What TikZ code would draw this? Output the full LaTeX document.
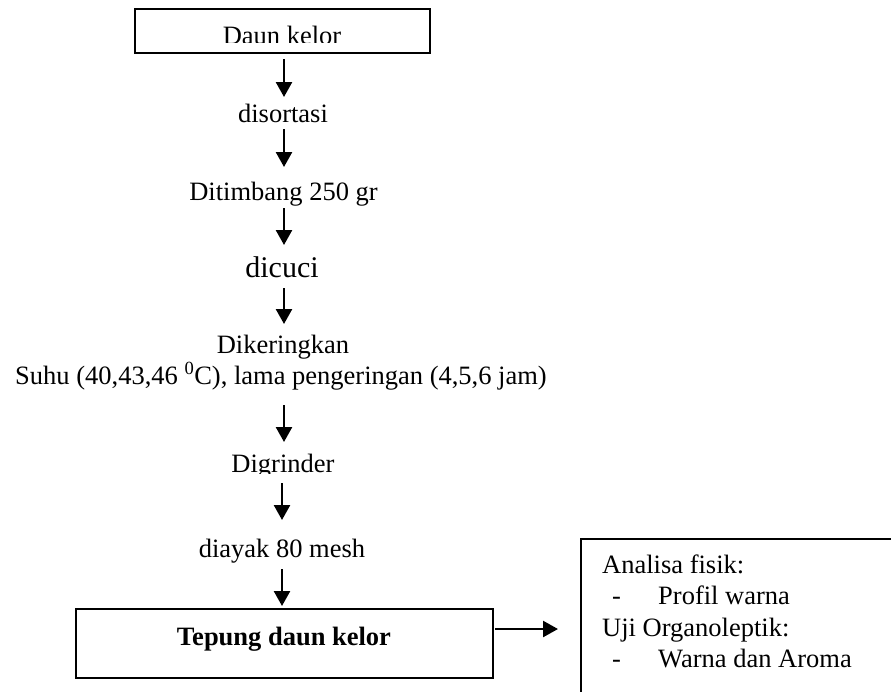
\documentclass[tikz,border=0pt]{standalone}
\usepackage{fontspec}
\setmainfont{Liberation Serif}
\usetikzlibrary{arrows.meta}
\begin{document}
\begin{tikzpicture}[x=1pt,y=-1pt,
  txt/.style={inner sep=0pt,anchor=base,font=\fontsize{26.5}{31.5}\selectfont},
  ltxt/.style={txt,anchor=base west},
  boxline/.style={draw,line width=2pt,inner sep=0pt},
  arr/.style={line width=2.5pt,-{Triangle[length=15pt,width=16pt]}}]
\useasboundingbox (0,0) rectangle (891,691);
% top box
\node[boxline,minimum width=295pt,minimum height=44pt] (daun) at (282.5,31) {};
\begin{scope}
\clip (135,0) rectangle (430,42);
\node[txt] (dauntxt) at (282,44) {Daun kelor};
\end{scope}
\node[txt] (sort) at (283,122) {disortasi};
\node[txt] (timb) at (283.5,200) {Ditimbang 250 gr};
\node[txt,font=\fontsize{30}{36}\selectfont] (cuci) at (282,277) {dicuci};
\node[txt] (kering) at (283,353) {Dikeringkan};
\node[txt] (suhu) at (281,384) {Suhu (40,43,46 \textsuperscript{0}C), lama pengeringan (4,5,6 jam)};
\begin{scope}
\clip (150,440) rectangle (420,473);
\node[txt] (grind) at (283,472) {Digrinder};
\end{scope}
\node[txt] (ayak) at (282,557) {diayak 80 mesh};
% bottom box
\node[boxline,minimum width=417pt,minimum height=69pt] (tep) at (284.5,643.5) {};
\node[txt,font=\fontsize{26.5}{31.5}\selectfont\bfseries] (teptxt) at (284,645) {Tepung daun kelor};
% right box
\node[boxline,anchor=north west,minimum width=330pt,minimum height=170pt] (ana) at (580,538) {};
\node[ltxt] (l1) at (602,573) {Analisa fisik:};
\node[ltxt] (d1) at (612,604) {-};
\node[ltxt] (l2) at (658,604) {Profil warna};
\node[ltxt] (l3) at (602,636) {Uji Organoleptik:};
\node[ltxt] (d2) at (612,667) {-};
\node[ltxt] (l4) at (658,667) {Warna dan Aroma};
% arrows
\coordinate (a1s) at (284,59);  \coordinate (a1e) at (284,97);
\coordinate (a2s) at (284,129); \coordinate (a2e) at (284,167);
\coordinate (a3s) at (284,208); \coordinate (a3e) at (284,245);
\coordinate (a4s) at (284,288); \coordinate (a4e) at (284,324);
\coordinate (a5s) at (284,405); \coordinate (a5e) at (284,442);
\coordinate (a6s) at (282,483); \coordinate (a6e) at (282,520);
\coordinate (a7s) at (282,569); \coordinate (a7e) at (282,606);
\coordinate (a8s) at (495,629); \coordinate (a8e) at (558,629);
\foreach \i in {1,...,8} {\draw[arr] (a\i s) -- (a\i e);}
\end{tikzpicture}
\end{document}
